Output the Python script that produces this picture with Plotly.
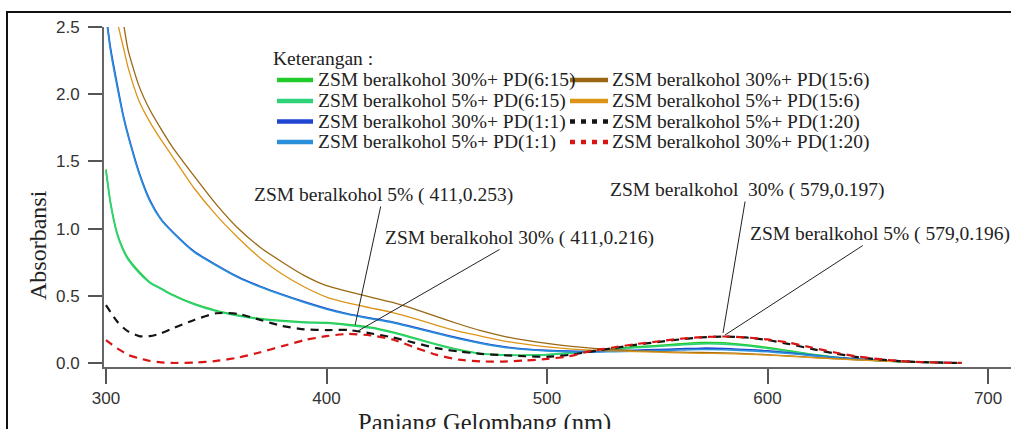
import plotly.graph_objects as go

# ---------------- data ----------------
wavelength = [300, 302, 305, 308, 310, 315, 320, 325, 330, 340, 350, 360, 370, 380, 390,
              400, 410, 420, 430, 440, 450, 460, 470, 480, 490, 500, 510, 520, 530, 540,
              550, 560, 570, 580, 590, 600, 610, 620, 630, 640, 650, 660, 670, 680, 688]

green_30_6_15 = [1.44, 1.20, 0.97, 0.84, 0.78, 0.68, 0.60, 0.555, 0.51, 0.44, 0.39, 0.355, 0.33, 0.315, 0.305,
                 0.30, 0.285, 0.265, 0.23, 0.185, 0.14, 0.10, 0.07, 0.06, 0.058, 0.062, 0.075, 0.09, 0.105, 0.12,
                 0.13, 0.142, 0.152, 0.15, 0.135, 0.115, 0.09, 0.065, 0.045, 0.03, 0.018, 0.01, 0.005, 0.002, 0.0]
green_5_6_15 = [1.43, 1.19, 0.96, 0.83, 0.77, 0.67, 0.595, 0.55, 0.505, 0.435, 0.385, 0.35, 0.325, 0.31, 0.30,
                0.295, 0.28, 0.26, 0.225, 0.18, 0.135, 0.095, 0.068, 0.058, 0.056, 0.06, 0.072, 0.086, 0.10, 0.113,
                0.123, 0.133, 0.142, 0.14, 0.128, 0.108, 0.085, 0.062, 0.043, 0.028, 0.017, 0.009, 0.005, 0.002, 0.0]
blue_30_1_1 = [2.60, 2.35, 2.08, 1.83, 1.70, 1.42, 1.21, 1.07, 0.98, 0.83, 0.73, 0.64, 0.57, 0.51, 0.455,
               0.405, 0.365, 0.335, 0.305, 0.265, 0.225, 0.185, 0.15, 0.122, 0.104, 0.094, 0.088, 0.085, 0.09, 0.095,
               0.10, 0.105, 0.11, 0.108, 0.10, 0.09, 0.075, 0.058, 0.042, 0.03, 0.02, 0.012, 0.007, 0.003, 0.0]
blue_5_1_1 = [2.58, 2.33, 2.06, 1.82, 1.69, 1.41, 1.20, 1.065, 0.975, 0.825, 0.725, 0.635, 0.565, 0.505, 0.45,
              0.40, 0.36, 0.33, 0.30, 0.26, 0.22, 0.18, 0.146, 0.118, 0.10, 0.09, 0.083, 0.08, 0.084, 0.088,
              0.092, 0.096, 0.10, 0.098, 0.092, 0.083, 0.07, 0.055, 0.04, 0.028, 0.019, 0.011, 0.006, 0.003, 0.0]
brown_30_15_6 = [3.30, 3.10, 2.80, 2.52, 2.33, 2.06, 1.88, 1.74, 1.61, 1.39, 1.18, 1.00, 0.86, 0.75, 0.65,
                 0.575, 0.53, 0.49, 0.45, 0.40, 0.345, 0.29, 0.24, 0.20, 0.17, 0.145, 0.125, 0.11, 0.10, 0.09,
                 0.085, 0.08, 0.078, 0.075, 0.07, 0.062, 0.052, 0.042, 0.032, 0.024, 0.017, 0.011, 0.006, 0.003, 0.0]
orange_5_15_6 = [3.10, 2.85, 2.55, 2.34, 2.20, 1.95, 1.79, 1.66, 1.54, 1.30, 1.10, 0.93, 0.78, 0.66, 0.565,
                 0.49, 0.445, 0.41, 0.375, 0.33, 0.28, 0.235, 0.20, 0.165, 0.14, 0.12, 0.105, 0.095, 0.09, 0.085,
                 0.08, 0.075, 0.072, 0.07, 0.065, 0.058, 0.05, 0.04, 0.031, 0.023, 0.016, 0.01, 0.006, 0.003, 0.0]
black_5_1_20 = [0.43, 0.38, 0.31, 0.26, 0.235, 0.20, 0.20, 0.22, 0.255, 0.32, 0.37, 0.365, 0.32, 0.275, 0.25,
                0.245, 0.245, 0.22, 0.19, 0.15, 0.11, 0.085, 0.068, 0.058, 0.05, 0.046, 0.06, 0.085, 0.11, 0.135,
                0.155, 0.175, 0.19, 0.196, 0.19, 0.17, 0.14, 0.105, 0.072, 0.045, 0.027, 0.014, 0.006, 0.002, 0.0]
red_30_1_20 = [0.17, 0.145, 0.11, 0.08, 0.06, 0.035, 0.015, 0.005, 0.0, 0.003, 0.015, 0.04, 0.08, 0.125, 0.17,
               0.20, 0.216, 0.205, 0.175, 0.115, 0.06, 0.025, 0.012, 0.01, 0.018, 0.03, 0.05, 0.09, 0.115, 0.14,
               0.16, 0.18, 0.192, 0.197, 0.19, 0.175, 0.15, 0.115, 0.08, 0.05, 0.03, 0.015, 0.007, 0.002, 0.0]

series_names = ["ZSM beralkohol 30%+ PD(6:15)", "ZSM beralkohol 5%+ PD(6:15)",
                "ZSM beralkohol 30%+ PD(1:1)", "ZSM beralkohol 5%+ PD(1:1)",
                "ZSM beralkohol 30%+ PD(15:6)", "ZSM beralkohol 5%+ PD(15:6)",
                "ZSM beralkohol 5%+ PD(1:20)", "ZSM beralkohol 30%+ PD(1:20)"]
series_values = [green_30_6_15, green_5_6_15, blue_30_1_1, blue_5_1_1,
                 brown_30_15_6, orange_5_15_6, black_5_1_20, red_30_1_20]
series_colors = ["#1fcc2a", "#2fd278", "#1f45d2", "#2b90da",
                 "#9a6812", "#dc9418", "#151515", "#d81414"]
series_dash = ["solid", "solid", "solid", "solid", "solid", "solid", "8px,6px", "8px,6px"]
series_width = [1.6, 1.6, 1.6, 1.6, 1.3, 1.3, 2.2, 2.2]

x_ticks = [300, 400, 500, 600, 700]
y_ticks = [0.0, 0.5, 1.0, 1.5, 2.0, 2.5]

peak_labels = ["ZSM beralkohol 5% ( 411,0.253)", "ZSM beralkohol 30% ( 411,0.216)",
               "ZSM beralkohol  30% ( 579,0.197)", "ZSM beralkohol 5% ( 579,0.196)"]
peak_x = [413, 414.3, 579.8, 580.7]
peak_y = [0.283, 0.238, 0.223, 0.208]

# ---------------- layout helpers (pixel -> paper) ----------------
W, H = 1011, 429
L, R, T, B = 104, 0, 27, 62
PW, PH = W - L - R, H - T - B


def px(x):
    return (x - L) / PW


def py(y):
    return (H - B - y) / PH


SERIF = "Liberation Serif, Times New Roman, serif"
SANS = "Liberation Sans, Arial, sans-serif"

fig = go.Figure()
for name, vals, col, dash, w in zip(series_names, series_values, series_colors, series_dash, series_width):
    fig.add_trace(go.Scatter(x=wavelength, y=vals, mode="lines", name=name, showlegend=False,
                             line=dict(color=col, width=w, dash=dash, shape="spline", smoothing=0.6)))

# frame around the figure
shapes = [dict(type="rect", xref="paper", yref="paper", x0=px(7), x1=px(1030), y0=py(460), y1=py(12),
               line=dict(color="#111111", width=2), fillcolor="rgba(0,0,0,0)", layer="below")]

annotations = []
# manual legend (two columns)
annotations.append(dict(text="Keterangan :", xref="paper", yref="paper", x=px(272), y=py(58),
                        xanchor="left", yanchor="middle", showarrow=False, borderpad=0,
                        font=dict(family=SERIF, size=19.5, color="#222")))
row_y = [80, 101, 121.5, 142]
col_x = [(277, 313, 316.5), (570, 608, 611)]
for i, (name, col, dash) in enumerate(zip(series_names, series_colors, series_dash)):
    c = i // 4
    r = i % 4
    sx0, sx1, tx = col_x[c]
    yy = row_y[r]
    shapes.append(dict(type="line", xref="paper", yref="paper", x0=px(sx0), x1=px(sx1), y0=py(yy), y1=py(yy),
                       line=dict(color=col, width=4.5, dash=("solid" if dash == "solid" else "5px,6px"))))
    annotations.append(dict(text=name, xref="paper", yref="paper", x=px(tx), y=py(yy),
                            xanchor="left", yanchor="middle", showarrow=False, borderpad=0,
                            font=dict(family=SERIF, size=19.5, color="#222")))

# peak annotations with leader lines
text_centers = [(383, 195), (519.5, 238), (747, 190), (880.5, 234)]
head_px = [(355, 325), (358, 331), (723, 333), (725, 335)]
for lab, xv, yv, (tcx, tcy), (hx, hy) in zip(peak_labels, peak_x, peak_y, text_centers, head_px):
    annotations.append(dict(text=lab, x=xv, y=yv, xref="x", yref="y", showarrow=True, arrowhead=0,
                            arrowwidth=1, arrowcolor="#222", ax=tcx - hx, ay=tcy - hy, standoff=0,
                            borderpad=0, font=dict(family=SERIF, size=19.5, color="#222")))

# axis titles
annotations.append(dict(text="Absorbansi", xref="paper", yref="paper", x=px(38), y=py(245), textangle=-90,
                        showarrow=False, xanchor="center", yanchor="middle",
                        font=dict(family=SERIF, size=24, color="#222")))
annotations.append(dict(text="Panjang Gelombang (nm)", xref="paper", yref="paper", x=px(484), y=py(423),
                        showarrow=False, xanchor="center", yanchor="middle", borderpad=0,
                        font=dict(family=SERIF, size=24.5, color="#222")))

fig.update_layout(
    width=W, height=H, autosize=False,
    margin=dict(l=L, r=R, t=T, b=B, pad=0),
    paper_bgcolor="white", plot_bgcolor="white",
    showlegend=False,
    shapes=shapes, annotations=annotations,
    xaxis=dict(range=[299.1, 710.4], tickvals=x_ticks, ticks="outside", ticklen=15, tickwidth=1.5,
               tickcolor="#555", showline=True, linecolor="#666", linewidth=2, showgrid=False,
               zeroline=False, ticklabelstandoff=0, tickfont=dict(family=SANS, size=17, color="#333")),
    yaxis=dict(range=[-0.03, 2.5], tickvals=y_ticks, tickformat=".1f", ticks="outside", ticklen=14,
               tickwidth=1.5, tickcolor="#555", showline=True, linecolor="#666", linewidth=2,
               showgrid=False, zeroline=False, ticklabelstandoff=5,
               tickfont=dict(family=SANS, size=17, color="#333")),
)

fig.write_html("out.html")
